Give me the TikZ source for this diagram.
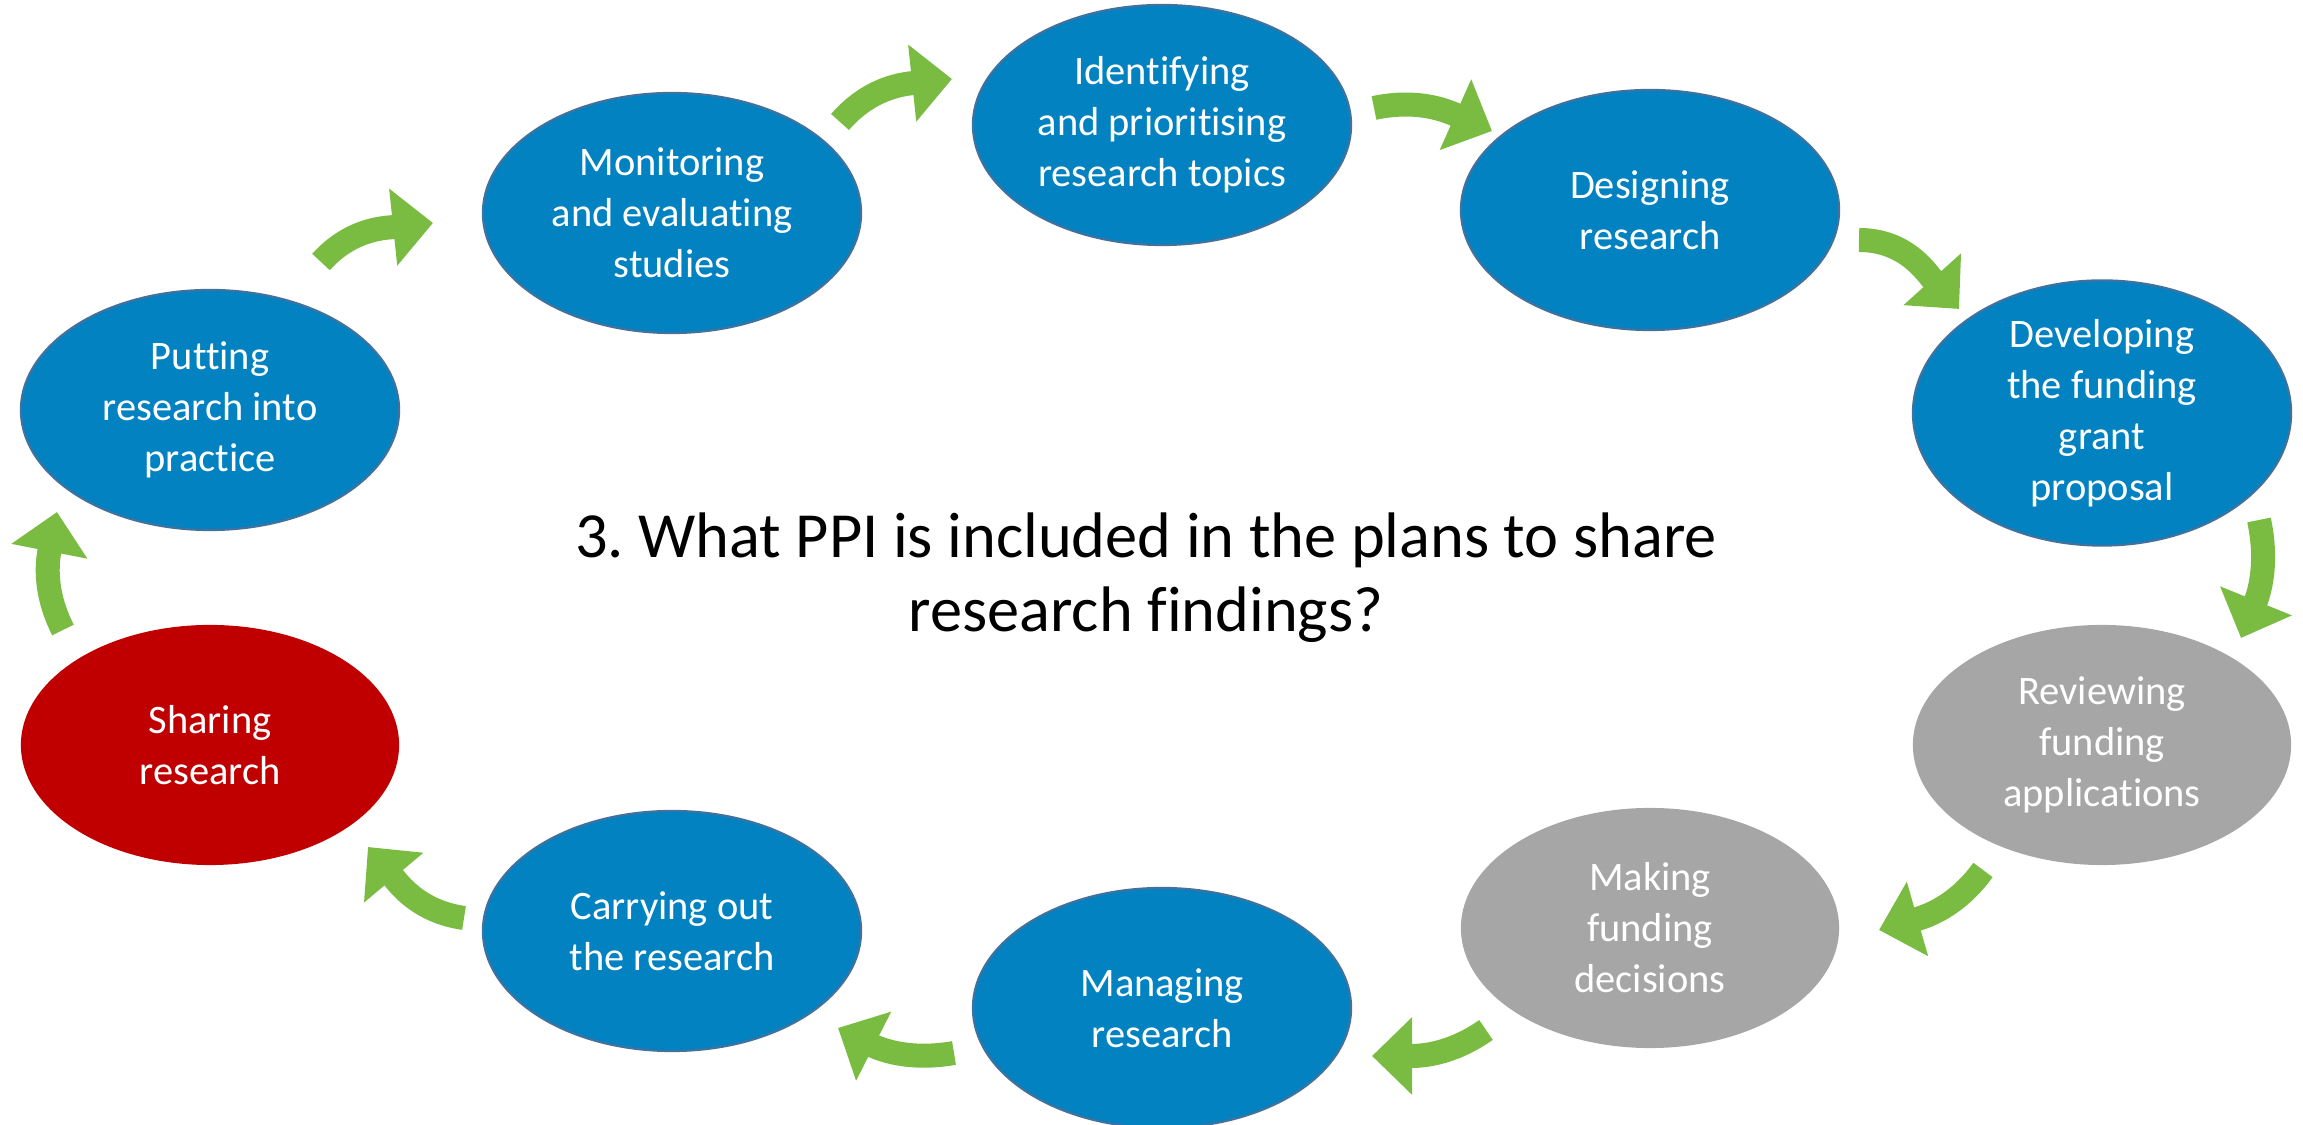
\documentclass[tikz,border=0pt]{standalone}
\usepackage{fontspec}
\setmainfont{Carlito}[Ligatures=NoCommon]
\usetikzlibrary{shapes.geometric,arrows.meta}

\begin{document}
\frenchspacing
\begin{tikzpicture}[x=0.01cm,y=0.01cm]
  % Colors
  \definecolor{stageblue}{RGB}{2,130,192}
  \definecolor{stageedge}{RGB}{65,113,156}
  \definecolor{stagegrey}{RGB}{166,166,166}
  \definecolor{stagered}{RGB}{192,0,0}
  \definecolor{flowgreen}{RGB}{122,188,66}

  % Styles
  \tikzstyle{stage}=[ellipse,minimum width=3.78cm,minimum height=2.4cm,inner sep=0pt,
                     align=center,text=white,font=\fontsize{11.5}{14.5}\selectfont]
  \tikzstyle{blue stage}=[stage,fill=stageblue,draw=stageedge,line width=0.6pt]
  \tikzstyle{grey stage}=[stage,fill=stagegrey]
  \tikzstyle{red stage}=[stage,fill=stagered]
  \tikzstyle{flow}=[draw=flowgreen,line width=0.24cm,
                    -{Triangle[length=0.4cm,width=0.75cm]}]

  \useasboundingbox (0,0) rectangle (2303,1125);

  % The cycle
  \node[blue stage] (identify) at (1162,1000) {Identifying\\and prioritising\\research topics};
  \node[blue stage] (design)   at (1650,915)  {Designing\\research};
  \node[blue stage] (develop)  at (2102,712)  {Developing\\the funding\\grant\\proposal};
  \node[grey stage] (review)   at (2102,380)  {Reviewing\\funding\\applications};
  \node[grey stage] (decide)   at (1650,197)  {Making\\funding\\decisions};
  \node[blue stage] (manage)   at (1162,117)  {Managing\\research};
  \node[blue stage] (conduct)  at (672,194)   {Carrying out\\the research};
  \node[red stage]  (share)    at (210,380)   {Sharing\\research};
  \node[blue stage] (implement) at (210,715)  {Putting\\research into\\practice};
  \node[blue stage] (monitor)  at (672,912)   {Monitoring\\and evaluating\\studies};

  % The question
  \node[font=\fontsize{18.3}{21}\selectfont,align=center] (question) at (1146,547)
    {3. What PPI is included in the plans to share\\research findings?};

  % Arrows between the stages
  \coordinate (tail1) at (840,1003);  \coordinate (tip1) at (952,1046);
  \coordinate (tail2) at (1374,1017); \coordinate (tip2) at (1492,994);
  \coordinate (tail3) at (1859,885);  \coordinate (tip3) at (1959,816);
  \coordinate (tail4) at (2259,605);  \coordinate (tip4) at (2241,487);
  \coordinate (tail5) at (1983,255);  \coordinate (tip5) at (1879,195);
  \coordinate (tail6) at (1486,95);   \coordinate (tip6) at (1372,69);
  \coordinate (tail7) at (954,72);    \coordinate (tip7) at (838,97);
  \coordinate (tail8) at (464,207);   \coordinate (tip8) at (368,278);
  \coordinate (tail9) at (63,495);    \coordinate (tip9) at (57,613);
  \coordinate (tail10) at (321,863);  \coordinate (tip10) at (433,902);

  \foreach \n/\o/\i in {1/49/186, 2/12/156, 3/0/132, 4/-78/68, 5/234/16,
                        6/215/0, 7/190/333, 8/172/310, 9/117/259, 10/48/186}
    \draw[flow] (tail\n) to[out=\o,in=\i] (tip\n);
\end{tikzpicture}
\end{document}
